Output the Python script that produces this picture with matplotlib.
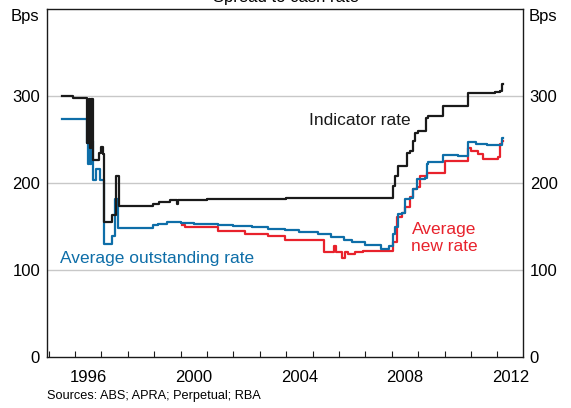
import matplotlib
matplotlib.use("Agg")
import matplotlib.pyplot as plt
import numpy as np

plt.rcParams['font.family'] = ['Liberation Sans', 'DejaVu Sans']

# Indicator rate (black), step series: year, bps
ind_x = [1995.49, 1995.93, 1996.47, 1996.52, 1996.57, 1996.61, 1996.67, 1996.91, 1996.98, 1997.05,
         1997.11, 1997.39, 1997.55, 1997.66, 1998.97, 1999.20, 1999.60, 1999.85, 1999.92, 2000.20,
         2001.00, 2002.50, 2004.00, 2006.00, 2008.06, 2008.12, 2008.25, 2008.56, 2008.69, 2008.81,
         2008.88, 2009.00, 2009.29, 2009.38, 2009.95, 2010.90, 2011.90, 2012.10, 2012.16, 2012.20]
ind_y = [300, 298, 246, 297, 240, 297, 226, 235, 241, 233,
         155, 163, 208, 173, 176, 178, 180, 176, 180, 181,
         182, 182, 182.5, 183, 197, 208, 219, 235, 237, 248.5,
         258, 260, 275, 277, 288.6, 303, 304.6, 306, 314, 314]

# Average outstanding rate (blue)
out_x = [1995.49, 1995.93, 1996.47, 1996.50, 1996.53, 1996.57, 1996.62, 1996.69, 1996.80, 1996.95,
         1997.11, 1997.39, 1997.52, 1997.62, 1998.96, 1999.15, 1999.50, 2000.00, 2000.50, 2001.40,
         2002.00, 2002.70, 2003.30, 2003.95, 2004.50, 2005.20, 2005.70, 2006.20, 2006.50, 2007.00,
         2007.60, 2007.90, 2008.06, 2008.12, 2008.25, 2008.37, 2008.50, 2008.69, 2008.81, 2008.94,
         2009.25, 2009.32, 2009.38, 2009.95, 2010.50, 2010.90, 2011.20, 2011.60, 2012.10, 2012.16, 2012.20]
out_y = [274, 273, 246, 222, 270, 222, 248, 203, 216, 203,
         130, 139.5, 182, 148, 152, 153, 155, 154, 153, 152,
         150.5, 149, 147.5, 146, 144, 141.6, 138, 134.7, 132, 128.5,
         124.4, 128, 141.6, 149, 164, 166, 181.7, 183, 193, 204.6,
         206, 221.8, 223.6, 232.5, 231, 246.6, 245, 243.5, 244, 251.6, 251.6]

# Average new rate (red)
new_x = [2000.04, 2000.16, 2001.43, 2002.44, 2003.32, 2003.95, 2005.20, 2005.45, 2005.80, 2005.90,
         2006.10, 2006.22, 2006.35, 2006.60, 2006.92, 2008.06, 2008.20, 2008.37, 2008.52, 2008.69,
         2008.81, 2008.94, 2009.07, 2009.32, 2010.01, 2010.90, 2011.02, 2011.28, 2011.47, 2011.66,
         2012.03, 2012.10, 2012.16, 2012.20]
new_y = [152, 149, 145.4, 141.6, 138.6, 134.7, 134, 120.6, 128, 121,
         114, 120.6, 118, 121, 122, 132, 160.7, 166, 172, 183.5,
         193, 195, 208, 212, 225.5, 240, 237, 233, 228, 227.5,
         230, 245, 248, 248]

year_ticks = list(range(1995, 2013))
year_labels = [1996, 2000, 2004, 2008, 2012]
y_ticks = [0, 100, 200, 300]

BLACK = '#1a1a1a'
BLUE = '#0e6ea8'
RED = '#e8222c'

fig = plt.figure(figsize=(5.71, 4.08), dpi=100)
ax = fig.add_axes([47/571, 1 - 357/408, (522.7 - 47)/571, (357 - 9)/408])

ax.plot(new_x, new_y, drawstyle='steps-post', color=RED, lw=1.6, zorder=3)
ax.plot(out_x, out_y, drawstyle='steps-post', color=BLUE, lw=1.6, zorder=4)
ax.plot(ind_x, ind_y, drawstyle='steps-post', color=BLACK, lw=1.6, zorder=5)

ax.set_xlim(1994.94, 2012.96)
ax.set_ylim(0, 400)

ax.set_yticks(y_ticks)
ax.set_yticklabels([str(v) for v in y_ticks])
ax.tick_params(axis='y', which='both', length=0, labelsize=12, labelright=True, pad=5)
for v in y_ticks[1:]:
    ax.axhline(v, color='#c8c8c8', lw=1, zorder=1)

ax.set_xticks(year_ticks)
ax.set_xticklabels([])
ax.set_xticks([y + 0.5 for y in year_labels], minor=True)
ax.set_xticklabels([str(y) for y in year_labels], minor=True)
ax.tick_params(axis='x', which='major', direction='in', length=4, width=0.8, color=BLACK)
ax.tick_params(axis='x', which='minor', length=0, labelsize=12, pad=9)

for s in ax.spines.values():
    s.set_color(BLACK)
    s.set_linewidth(1.0)

ax.text(2006.8, 272, 'Indicator rate', color=BLACK, fontsize=12.5, ha='center', va='center')
ax.text(1995.43, 113, 'Average outstanding rate', color=BLUE, fontsize=12.5, ha='left', va='center')
ax.text(2009.98, 137, 'Average\nnew rate', color=RED, fontsize=12.5, ha='center', va='center',
        linespacing=1.15)

fig.text(25/571, 1 - 17/408, 'Bps', fontsize=12, ha='center', va='center')
fig.text(543/571, 1 - 17/408, 'Bps', fontsize=12, ha='center', va='center')
fig.text(0.5, 1 - 2/408, 'Spread to cash rate', fontsize=12, ha='center', va='baseline')
fig.text(47/571, 1 - 396/408, 'Sources: ABS; APRA; Perpetual; RBA', fontsize=9.2,
         ha='left', va='center')

fig.savefig('out.png', dpi=100)
